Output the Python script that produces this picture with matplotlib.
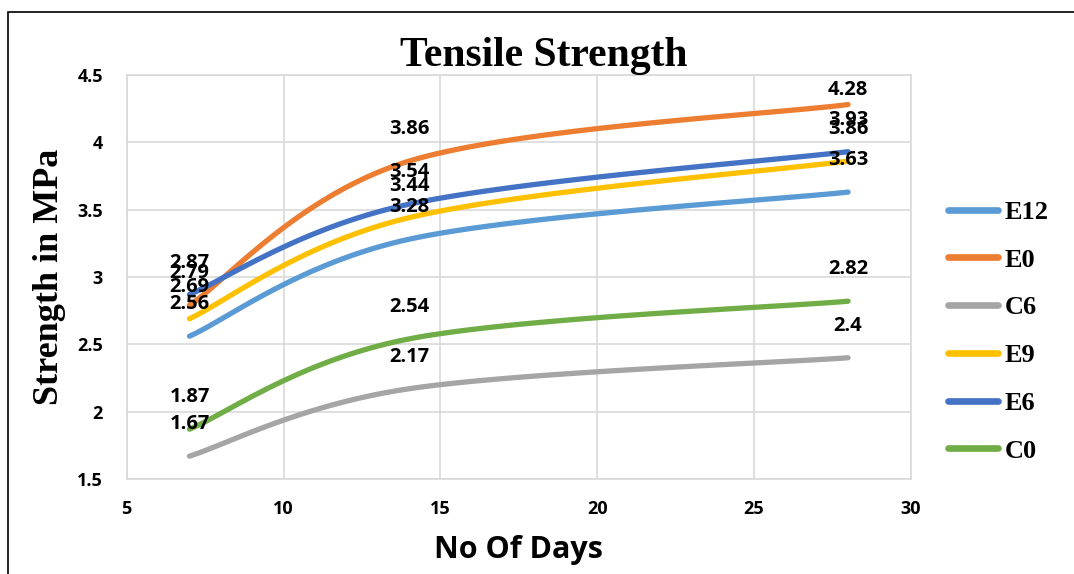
import numpy as np
import matplotlib
matplotlib.use("Agg")
import matplotlib.pyplot as plt
from matplotlib.patches import Rectangle

# data
days = [7, 14, 28]
series_names = ["E12", "E0", "C6", "E9", "E6", "C0"]
e12 = [2.56, 3.28, 3.63]
e0 = [2.79, 3.86, 4.28]
c6 = [1.67, 2.17, 2.40]
e9 = [2.69, 3.44, 3.86]
e6 = [2.87, 3.54, 3.93]
c0 = [1.87, 2.54, 2.82]
colors = ["#5B9BD5", "#ED7D31", "#A5A5A5", "#FFC000", "#4472C4", "#70AD47"]


def smooth(xs, ys, n=60):
    # Excel-style smoothed line: cubic bezier segments, catmull-rom control points
    pts = np.column_stack([xs, ys]).astype(float)
    out = []
    for i in range(len(pts) - 1):
        p0 = pts[i - 1] if i > 0 else pts[i]
        p1 = pts[i]
        p2 = pts[i + 1]
        p3 = pts[i + 2] if i + 2 < len(pts) else pts[i + 1]
        c1 = p1 + (p2 - p0) / 6
        c2 = p2 - (p3 - p1) / 6
        t = np.linspace(0, 1, n)[:, None]
        seg = ((1 - t) ** 3 * p1 + 3 * (1 - t) ** 2 * t * c1
               + 3 * (1 - t) * t ** 2 * c2 + t ** 3 * p2)
        out.append(seg if i == 0 else seg[1:])
    out = np.vstack(out)
    return out[:, 0], out[:, 1]


fig = plt.figure(figsize=(10.74, 5.74), dpi=100)
ax = fig.add_axes([0.118, 0.1655, 0.730, 0.704])

all_series = [e12, e0, c6, e9, e6, c0]
for name, vals, col in zip(series_names, all_series, colors):
    sx, sy = smooth(days, vals)
    ax.plot(sx, sy, color=col, lw=3.8, solid_capstyle="round", label=name)

# data labels above the points, kept inside the plot area
px_per_unit = 404 / 3.0
for vals in all_series:
    for d, v in zip(days, vals):
        room = (4.5 - v) * px_per_unit * 0.72 - 11
        off = min(23, room)
        ax.annotate(f"{v:g}", (d, v), xytext=(0, off), textcoords="offset points",
                    ha="center", va="center", fontsize=14.5, fontweight="bold",
                    family="Open Sans", color="black", zorder=5)

ax.set_xlim(5, 30)
ax.set_ylim(1.5, 4.5)
ax.set_xticks(range(5, 31, 5))
ax.set_yticks(np.arange(1.5, 4.51, 0.5))
ax.set_yticklabels(["1.5", "2", "2.5", "3", "3.5", "4", "4.5"])
ax.grid(True, color="#D9D9D9", lw=1.2)
ax.set_axisbelow(True)
for s in ax.spines.values():
    s.set_color("#D9D9D9")
    s.set_linewidth(1.2)
ax.tick_params(axis="y", length=0, pad=17)
ax.tick_params(axis="x", length=0, pad=15)
for lab in ax.get_xticklabels() + ax.get_yticklabels():
    lab.set_fontweight("bold")
    lab.set_fontsize(13)
    lab.set_family("Open Sans")

ax.set_title("Tensile Strength", fontsize=30, fontweight="bold",
             family="Liberation Serif", x=0.532, pad=-8)
ax.set_xlabel("No Of Days", fontsize=22, fontweight="bold", family="Open Sans", labelpad=12)
ax.set_ylabel("Strength in MPa", fontsize=26, fontweight="bold",
              family="Liberation Serif", labelpad=8)

leg = ax.legend(loc="center left", bbox_to_anchor=(1.017, 0.365), frameon=False,
                prop={"family": "Liberation Serif", "weight": "bold", "size": 19},
                handlelength=1.9, labelspacing=0.92, handletextpad=0.25)
for h in leg.get_lines():
    h.set_linewidth(4.8)

fig.patches.append(Rectangle((8 / 1074, -0.1), 1.2, 1.1 - 12 / 574,
                             transform=fig.transFigure, fill=False,
                             edgecolor="black", lw=1.2))

fig.savefig("out.png", dpi=100)
